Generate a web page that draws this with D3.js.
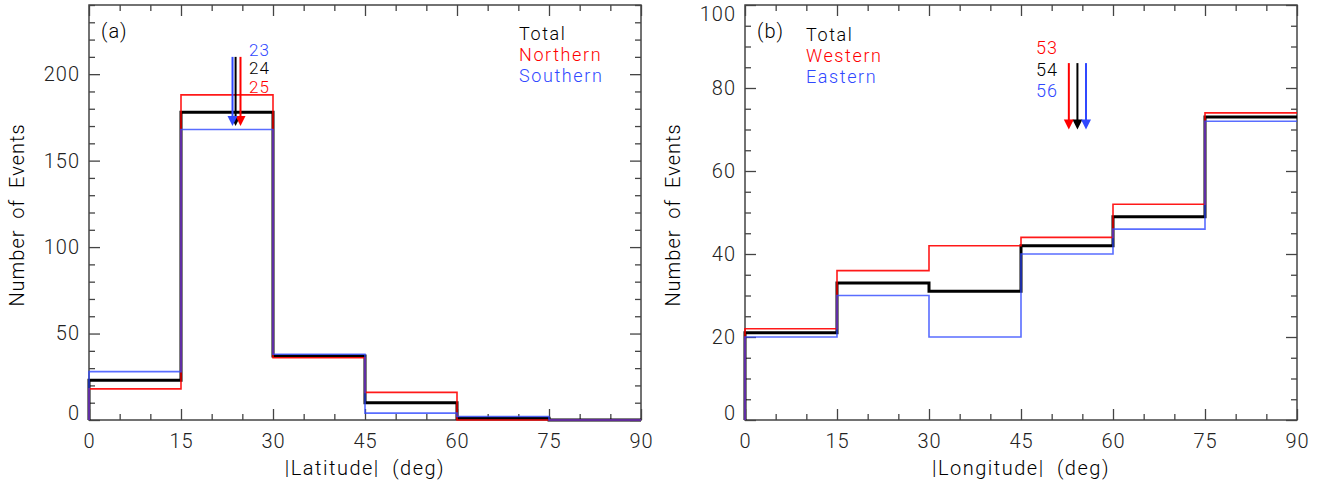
<!DOCTYPE html>
<html>
<head>
<meta charset="utf-8">
<script src="https://cdn.jsdelivr.net/npm/d3@7"></script>
<style>
  body { margin: 0; background: #fff; }
  svg text { font-family: Roboto, "DejaVu Sans", sans-serif; font-weight: 300; letter-spacing: 1px; }
</style>
</head>
<body>
<div id="chart"></div>
<script>
// bin edges, both panels
var binEdges = [0, 15, 30, 45, 60, 75, 90];

// panel (a) |Latitude|
var latTotal = [23, 178, 37, 10, 1, 0];
var latNorth = [18, 188, 36, 16, 0, 0];
var latSouth = [28, 168, 38, 4, 2, 0];
var latMeans = [23.9, 24.7, 23.4];   // total, northern, southern
var latMeanLabels = ["24", "25", "23"];

// panel (b) |Longitude|
var lonTotal = [21, 33, 31, 42, 49, 73];
var lonWest = [22, 36, 42, 44, 52, 74];
var lonEast = [20, 30, 20, 40, 46, 72];
var lonMeans = [54.2, 52.8, 55.6];   // total, western, eastern
var lonMeanLabels = ["54", "53", "56"];

var colTotal = "#000000", colRed = "#ff0000", colBlue = "#3048ff";
var axisCol = "#444";

var svg = d3.select("#chart").append("svg")
	.attr("width", 1334)
	.attr("height", 484);

var plotTop = 5, plotBottom = 420;

function drawPanel(opt) {
	var x = d3.scaleLinear().domain([0, 90]).range([opt.left, opt.left + 552]);
	var y = d3.scaleLinear().domain([0, opt.ymax]).range([plotBottom, plotTop]);
	var g = svg.append("g");

	var majorX = d3.range(0, 91, 15);
	var minorX = d3.range(0, 91, 5).filter(d => d % 15 != 0);
	var majorY = d3.range(0, opt.ymax + 1, opt.yMajor);
	var minorY = d3.range(0, opt.ymax + 1, opt.yMinor).filter(d => d % opt.yMajor != 0);

	// ticks, inward on all four sides
	function axisGroup(axis, tr) {
		var a = g.append("g").attr("transform", tr).call(axis);
		a.select(".domain").remove();
		a.selectAll("line").attr("stroke", axisCol).attr("stroke-width", 1.3);
		a.selectAll("text").style("font-size", "20px").attr("fill", "#222");
		return a;
	}
	axisGroup(d3.axisBottom(x).tickValues(majorX).tickSize(-11).tickPadding(14).tickFormat(d3.format("d")), `translate(0,${plotBottom})`);
	axisGroup(d3.axisBottom(x).tickValues(minorX).tickSize(-6).tickFormat(""), `translate(0,${plotBottom})`);
	axisGroup(d3.axisTop(x).tickValues(majorX).tickSize(-11).tickFormat(""), `translate(0,${plotTop})`);
	axisGroup(d3.axisTop(x).tickValues(minorX).tickSize(-6).tickFormat(""), `translate(0,${plotTop})`);
	var yl = axisGroup(d3.axisLeft(y).tickValues(majorY).tickSize(-11).tickPadding(9).tickFormat(d3.format("d")), `translate(${x(0)},0)`);
	axisGroup(d3.axisLeft(y).tickValues(minorY).tickSize(-6).tickFormat(""), `translate(${x(0)},0)`);
	axisGroup(d3.axisRight(y).tickValues(majorY).tickSize(-11).tickFormat(""), `translate(${x(90)},0)`);
	axisGroup(d3.axisRight(y).tickValues(minorY).tickSize(-6).tickFormat(""), `translate(${x(90)},0)`);
	// IDL keeps the end labels inside the frame
	yl.selectAll("text").attr("dy", d => d == 0 ? "-0.05em" : (d == opt.ymax ? "0.75em" : "0.32em"));

	g.append("rect")
		.attr("x", x(0)).attr("y", plotTop)
		.attr("width", x(90) - x(0)).attr("height", plotBottom - plotTop)
		.attr("fill", "none").attr("stroke", axisCol).attr("stroke-width", 1.5);

	// histograms as steps
	var step = d3.line().x(d => x(d[0])).y(d => y(d[1])).curve(d3.curveStepAfter);
	function pts(vals) {
		var p = [[0, 0]];
		vals.forEach((v, i) => p.push([binEdges[i], v]));
		p.push([90, vals[vals.length - 1]]);
		return p;
	}
	var series = [
		{ v: opt.total, c: colTotal, w: 3, o: 1 },
		{ v: opt.red, c: colRed, w: 1.6, o: 0.9 },
		{ v: opt.blue, c: colBlue, w: 1.6, o: 0.8 }
	];
	series.forEach(s => {
		g.append("path").datum(pts(s.v))
			.attr("d", step)
			.attr("fill", "none")
			.attr("stroke", s.c)
			.attr("stroke-width", s.w)
			.attr("stroke-opacity", s.o);
	});

	// mean arrows
	var arrowCols = [colTotal, colRed, colBlue];
	opt.means.forEach((m, i) => {
		var ax = x(m), y0 = y(opt.arrowTop), y1 = y(opt.arrowTip);
		g.append("line")
			.attr("x1", ax).attr("x2", ax)
			.attr("y1", y0).attr("y2", y1 - 6)
			.attr("stroke", arrowCols[i]).attr("stroke-width", 2);
		g.append("path")
			.attr("d", `M${ax - 5},${y1 - 10}L${ax + 5},${y1 - 10}L${ax},${y1}Z`)
			.attr("fill", arrowCols[i]);
	});
	opt.meanOrder.forEach((k, j) => {
		g.append("text")
			.attr("x", opt.meanLabelX)
			.attr("y", opt.meanLabelY + j * opt.meanLabelGap)
			.attr("text-anchor", opt.meanAnchor)
			.attr("dy", "0.35em")
			.style("font-size", opt.meanFont)
			.attr("fill", arrowCols[k])
			.text(opt.meanLabels[k]);
	});

	// legend
	opt.legend.forEach((t, i) => {
		g.append("text")
			.attr("x", opt.legendX)
			.attr("y", opt.legendY + i * 21)
			.attr("dy", "0.35em")
			.style("font-size", "18px")
			.style("letter-spacing", "1.6px")
			.attr("fill", arrowCols[i])
			.text(t);
	});

	g.append("text")
		.attr("x", x(0) + 12).attr("y", 31).attr("dy", "0.35em")
		.style("font-size", "20px")
		.text(opt.tag);

	g.append("text")
		.attr("x", x(45)).attr("y", 468).attr("dy", "0.35em")
		.attr("text-anchor", "middle")
		.style("font-size", "20px")
		.style("letter-spacing", "1.5px")
		.style("word-spacing", "6px")
		.text(opt.xlabel);

	g.append("text")
		.attr("transform", `translate(${x(0) - 72},215) rotate(-90)`)
		.attr("dy", "0.35em")
		.attr("text-anchor", "middle")
		.style("font-size", "20px")
		.style("letter-spacing", "1px")
		.style("word-spacing", "5px")
		.text("Number of Events");
}

drawPanel({
	left: 89, ymax: 240, yMajor: 50, yMinor: 10,
	total: latTotal, red: latNorth, blue: latSouth,
	means: latMeans, meanLabels: latMeanLabels,
	arrowTop: 210, arrowTip: 170,
	meanOrder: [2, 0, 1], meanLabelX: 249, meanLabelY: 50, meanLabelGap: 18.5, meanAnchor: "start", meanFont: "17px",
	legend: ["Total", "Northern", "Southern"], legendX: 519, legendY: 34,
	tag: "(a)", xlabel: "|Latitude| (deg)"
});

drawPanel({
	left: 745, ymax: 100, yMajor: 20, yMinor: 5,
	total: lonTotal, red: lonWest, blue: lonEast,
	means: lonMeans, meanLabels: lonMeanLabels,
	arrowTop: 86, arrowTip: 70,
	meanOrder: [1, 0, 2], meanLabelX: 1058, meanLabelY: 48, meanLabelGap: 21.5, meanAnchor: "end", meanFont: "18px",
	legend: ["Total", "Western", "Eastern"], legendX: 806, legendY: 35,
	tag: "(b)", xlabel: "|Longitude| (deg)"
});
</script>
</body>
</html>
